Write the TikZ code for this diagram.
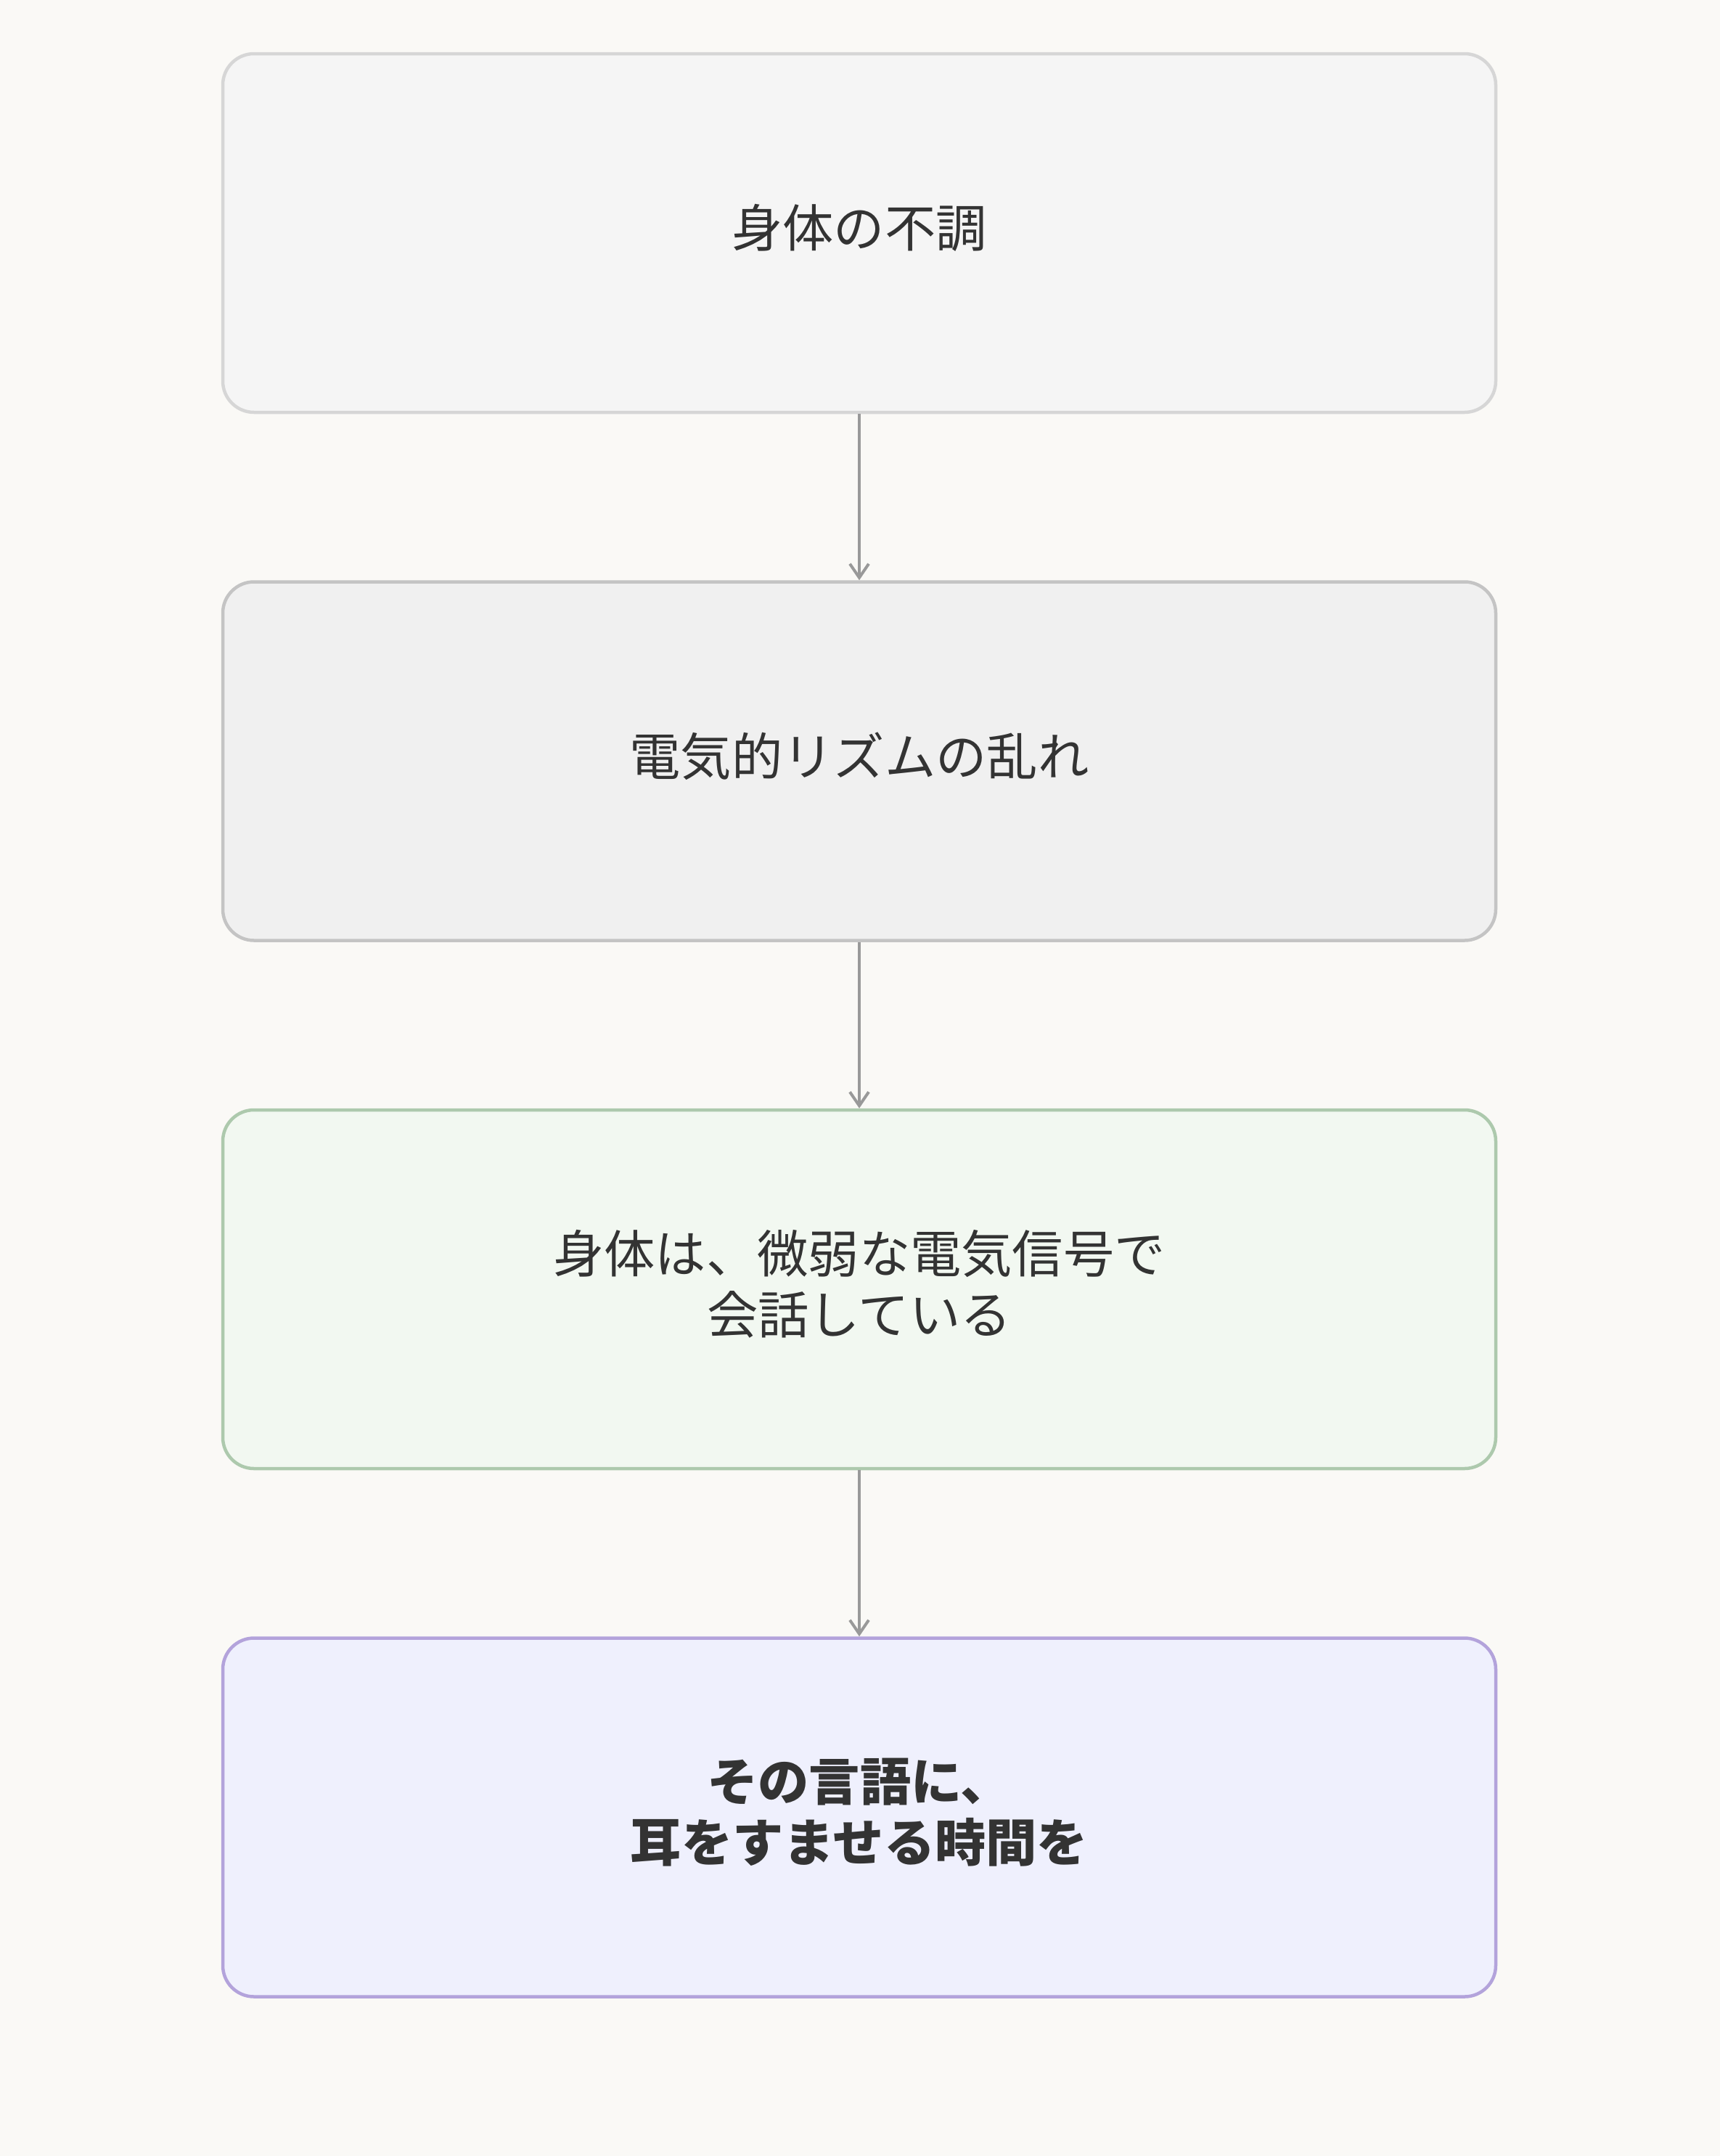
\documentclass[tikz,border=0pt]{standalone}
\usepackage{xcolor}
\usepackage{fontspec}
\usepackage{tikz}
\usetikzlibrary{arrows.meta}
\setmainfont{Noto Sans CJK JP}

\definecolor{paper}{HTML}{FAF9F6}
\definecolor{textgray}{HTML}{333333}
\definecolor{linegray}{HTML}{999999}
\definecolor{fillA}{HTML}{F5F5F5}
\definecolor{drawA}{HTML}{D6D6D6}
\definecolor{fillB}{HTML}{F0F0F0}
\definecolor{drawB}{HTML}{C4C4C4}
\definecolor{fillC}{HTML}{F2F8F1}
\definecolor{drawC}{HTML}{ADC9AD}
\definecolor{fillD}{HTML}{EFF0FD}
\definecolor{drawD}{HTML}{B3A3DB}

\tikzset{
  stagebox/.style={draw, rounded corners=4.3mm, line width=0.45mm,
    minimum width=175.4mm, minimum height=49.4mm, align=center,
    text=textgray, font=\fontsize{20}{24}\selectfont,
    execute at end node={\rule[-2mm]{0pt}{0pt}}},
  flowarrow/.style={-{Straight Barb[length=1.9mm,width=2.6mm,line width=0.4mm]},
    line width=0.4mm, draw=linegray}
}

\begin{document}
\begin{tikzpicture}
            \def \midx {118.4mm}
            \def \gap {72.75mm}

            \fill[paper] (0,0) rectangle (237mm,-297mm);
            \useasboundingbox (0,0) rectangle (237mm,-297mm);

            \node[stagebox, fill=fillA, draw=drawA] (fuchou) at (\midx,-32.1mm)
              {身体の不調};
            \node[stagebox, fill=fillB, draw=drawB] (rizumu) at (\midx,{-32.1mm-\gap})
              {電気的リズムの乱れ};
            \node[stagebox, fill=fillC, draw=drawC] (kaiwa) at (\midx,{-32.1mm-2*\gap})
              {身体は、微弱な電気信号で\\会話している};
            \node[stagebox, fill=fillD, draw=drawD, font=\fontsize{20}{24}\selectfont\bfseries]
              (mimi) at (\midx,{-32.1mm-3*\gap})
              {その言語に、\\耳をすませる時間を};

            \draw[flowarrow] (fuchou) -- (rizumu);
            \draw[flowarrow] (rizumu) -- (kaiwa);
            \draw[flowarrow] (kaiwa) -- (mimi);
          \end{tikzpicture}
\end{document}
